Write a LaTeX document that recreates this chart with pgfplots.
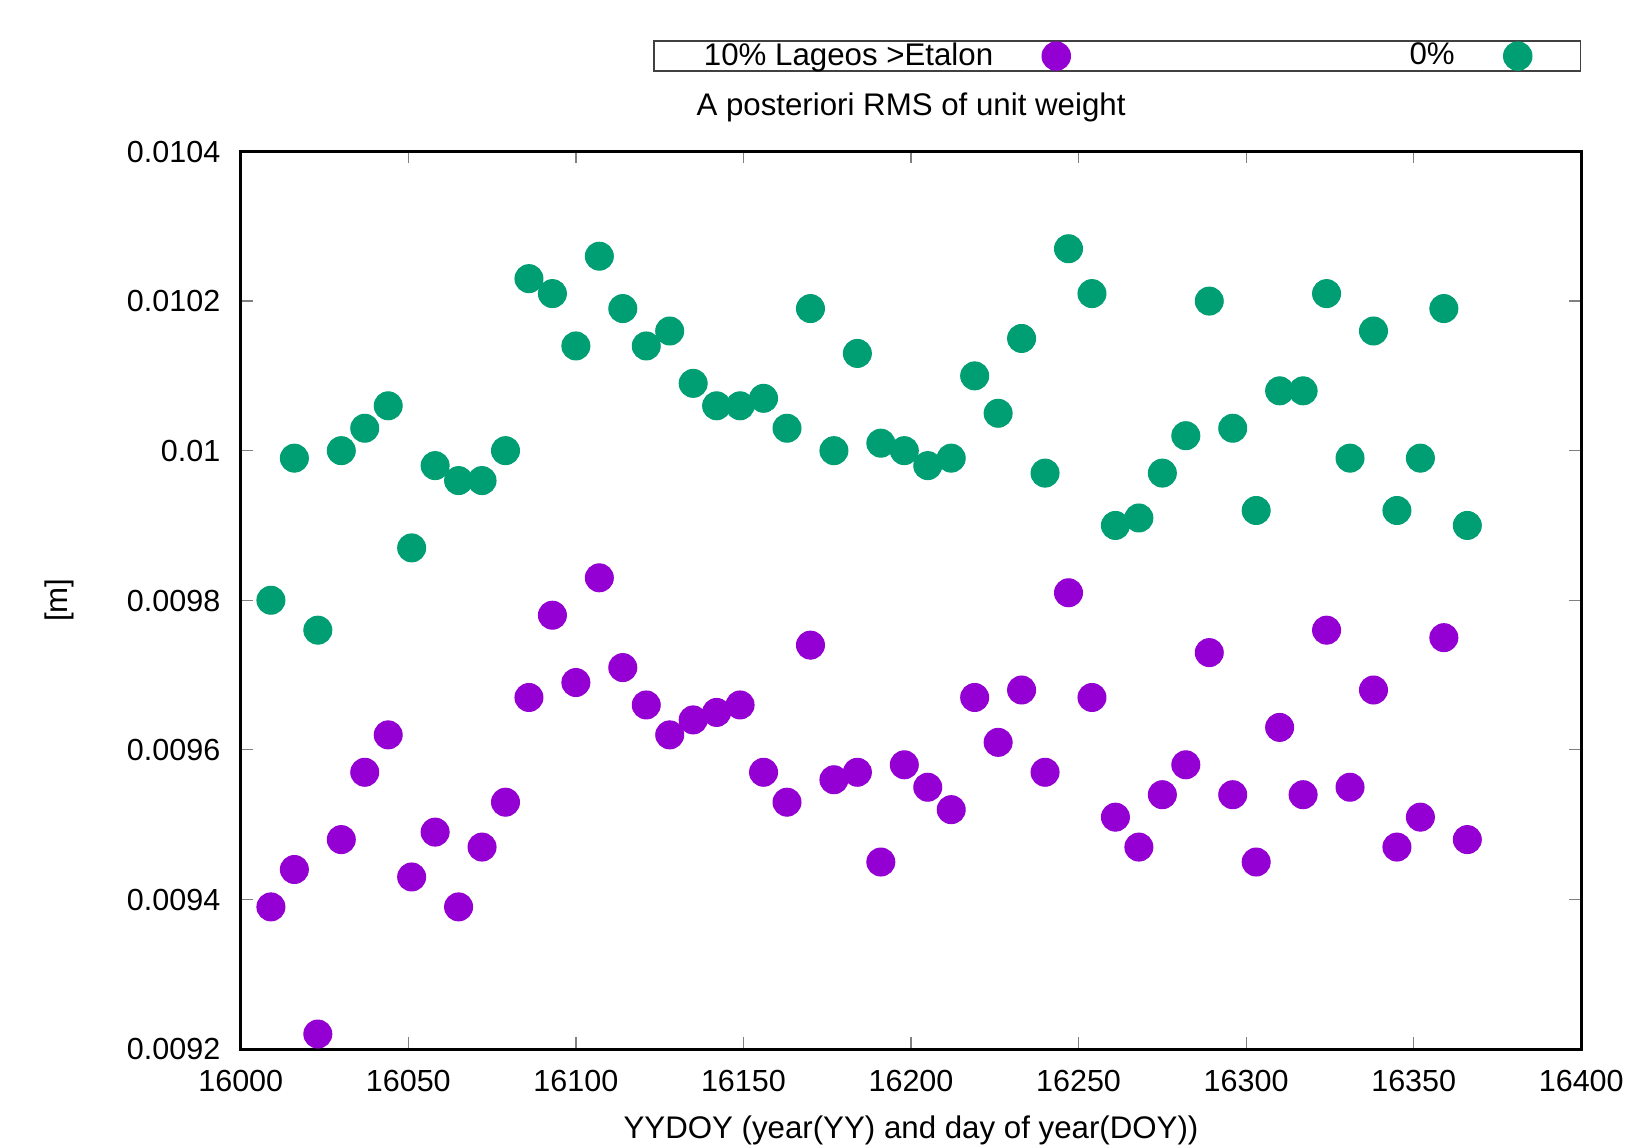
\documentclass[border=0pt]{standalone}
\usepackage{fontspec}
\setmainfont{Liberation Sans}
\usepackage{pgfplots}
\usepackage{pgfplotstable}
\pgfplotsset{compat=1.18}

\definecolor{gpviolet}{HTML}{9400D3}
\definecolor{gpgreen}{HTML}{009E73}

% YYDOY, 10% Lageos>Etalon, 0%
\pgfplotstableread{
doy    lag      zero
16009  0.00939  0.00980
16016  0.00944  0.00999
16023  0.00922  0.00976
16030  0.00948  0.01000
16037  0.00957  0.01003
16044  0.00962  0.01006
16051  0.00943  0.00987
16058  0.00949  0.00998
16065  0.00939  0.00996
16072  0.00947  0.00996
16079  0.00953  0.01000
16086  0.00967  0.01023
16093  0.00978  0.01021
16100  0.00969  0.01014
16107  0.00983  0.01026
16114  0.00971  0.01019
16121  0.00966  0.01014
16128  0.00962  0.01016
16135  0.00964  0.01009
16142  0.00965  0.01006
16149  0.00966  0.01006
16156  0.00957  0.01007
16163  0.00953  0.01003
16170  0.00974  0.01019
16177  0.00956  0.01000
16184  0.00957  0.01013
16191  0.00945  0.01001
16198  0.00958  0.01000
16205  0.00955  0.00998
16212  0.00952  0.00999
16219  0.00967  0.01010
16226  0.00961  0.01005
16233  0.00968  0.01015
16240  0.00957  0.00997
16247  0.00981  0.01027
16254  0.00967  0.01021
16261  0.00951  0.00990
16268  0.00947  0.00991
16275  0.00954  0.00997
16282  0.00958  0.01002
16289  0.00973  0.01020
16296  0.00954  0.01003
16303  0.00945  0.00992
16310  0.00963  0.01008
16317  0.00954  0.01008
16324  0.00976  0.01021
16331  0.00955  0.00999
16338  0.00968  0.01016
16345  0.00947  0.00992
16352  0.00951  0.00999
16359  0.00975  0.01019
16366  0.00948  0.00990
}\rms

\begin{document}
\fontsize{12.5}{15}\selectfont
\begin{tikzpicture}
\path (0,0) rectangle (650.8pt,458.4pt);
\begin{axis}[
    at={(96.3pt,38.8pt)}, anchor=south west,
    scale only axis,
    width=536.2pt, height=359pt,
    xmin=16000, xmax=16400,
    ymin=0.0092, ymax=0.0104,
    xtick={16000,16050,...,16400},
    xticklabels={16000,16050,16100,16150,16200,16250,16300,16350,16400},
    ytick={0.0092,0.0094,0.0096,0.0098,0.0100,0.0102,0.0104},
    yticklabels={0.0092,0.0094,0.0096,0.0098,0.01,0.0102,0.0104},
    scaled x ticks=false, scaled y ticks=false,
    tick align=inside,
    major tick length=4.8pt,
    major tick style={gray, line width=0.5pt},
    axis line style={line width=1.2pt},
    every tick label/.append style={font=\fontsize{12.2}{14.6}\selectfont},
    xticklabel style={anchor=base, yshift=-17pt, inner sep=0pt},
    yticklabel style={anchor=base east, xshift=-8pt, yshift=-4.35pt, inner sep=0pt},
    xlabel={YYDOY (year(YY) and day of year(DOY))},
    xlabel style={at={(axis description cs:0.5,0)}, anchor=base, yshift=-35.6pt, inner sep=0pt},
    ylabel={[m]},
    ylabel style={at={(axis description cs:-0.1356,0.5)}, anchor=center, inner sep=0pt},
    title={A posteriori RMS of unit weight},
    title style={at={(axis description cs:0.5,1)}, anchor=base, yshift=8.4pt, inner sep=0pt},
    legend columns=2,
    legend plot pos=right,
    legend style={at={(axis description cs:1,1)}, anchor=south east, yshift=31.8pt,
        draw=darkgray, line width=0.6pt, inner xsep=19.5pt, inner ysep=0.45pt,
        column sep=19.6pt, nodes={inner sep=0pt}},
    legend image code/.code={%
        \path[draw=none, fill=none] (-5.6pt,-5.6pt) rectangle (5.6pt,5.6pt);
        \draw[#1, mark repeat=1] plot coordinates {(0pt,0pt)};},
]
\addplot[only marks, mark=*, mark size=5.6pt, color=gpviolet, mark options={draw=none, fill=gpviolet}]
    table[x=doy, y=lag] {\rms};
\addlegendentry{\makebox[116.2pt][r]{10\% Lageos >Etalon}}
\addplot[only marks, mark=*, mark size=5.6pt, color=gpgreen, mark options={draw=none, fill=gpgreen}]
    table[x=doy, y=zero] {\rms};
\addlegendentry{\makebox[134.2pt][r]{0\%}}
\end{axis}
\end{tikzpicture}
\end{document}
